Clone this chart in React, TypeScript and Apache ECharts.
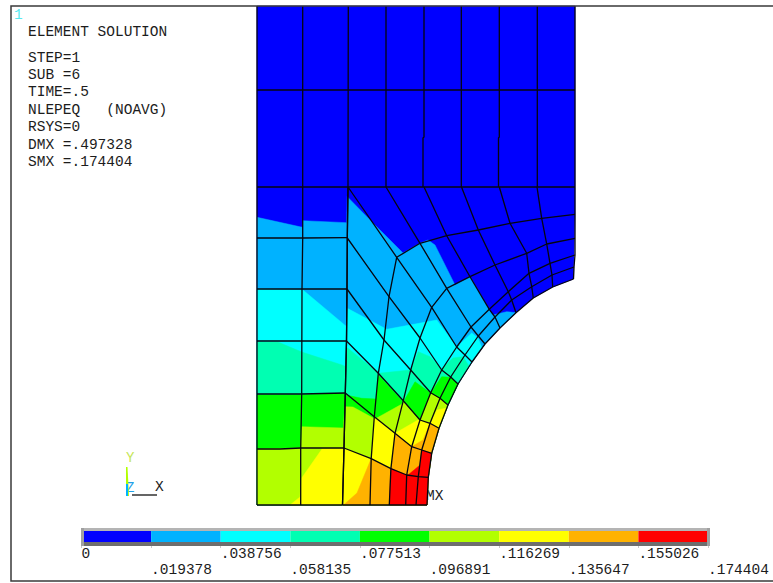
import React, { useEffect, useRef } from "react";
import * as echarts from "echarts";

const W = 773;
const H = 583;

// Contour scale
const contourLevels = [0, 0.019378, 0.038756, 0.058135, 0.077513, 0.096891, 0.116269, 0.135647, 0.155026, 0.174404];
const contourLabels = ["0", ".019378", ".038756", ".058135", ".077513", ".096891", ".116269", ".135647", ".155026", ".174404"];
const contourColors = ["#0000ff", "#00b2ff", "#00ffff", "#00ffb2", "#00ff00", "#b2ff00", "#ffff00", "#ffb200", "#ff0000"];

// Annotation text
const titleLines = ["ELEMENT SOLUTION"];
const infoLines = ["STEP=1", "SUB =6", "TIME=.5", "NLEPEQ   (NOAVG)", "RSYS=0", "DMX =.497328", "SMX =.174404"];

type P = [number, number];

// Mesh around the hole: each radial line, from the outer edge (c0) to the hole (c5)
const radialLines: P[][] = [
  [[575, 187], [575, 214.3], [575, 238.3], [575, 255], [574, 267], [573.5, 279]],
  [[537, 187], [541.7, 218.3], [546.7, 244], [550, 263.3], [552, 275], [552.7, 287]],
  [[499.3, 187], [510, 223.3], [526.7, 253.3], [529, 273.3], [531.7, 286.7], [533.3, 298]],
  [[461.5, 187], [478.3, 230], [495, 265], [508.3, 291.7], [511.7, 300], [516, 312.7]],
  [[424, 187], [446.7, 235.7], [470, 276.7], [489.3, 309.3], [495, 317], [500, 328]],
  [[386, 187], [420, 243.3], [446.7, 288.3], [471, 327], [478.3, 336], [485, 344]],
  [[348, 187], [396.7, 257.3], [431.7, 307.3], [456.7, 347], [465, 355], [472, 362]],
  [[347.3, 238], [389, 296.7], [420, 338], [441.7, 370], [450.7, 377], [458, 384]],
  [[347, 289], [384, 340], [410.7, 370], [430.7, 392.7], [440, 398.3], [448, 405]],
  [[346.5, 341], [378.3, 373.3], [403.3, 400.7], [420, 420], [430, 423.3], [439, 428.3]],
  [[345.3, 393], [374.3, 416.7], [395, 433.3], [411.7, 446.7], [421.7, 450], [431.7, 453.3]],
  [[344, 448], [371.2, 458.6], [390.9, 468.6], [406.7, 475], [418.3, 476.7], [428.3, 477.3]],
  [[342.5, 505], [370, 505], [389.3, 505], [405.7, 505], [416, 505], [427, 505]],
];

// Straight part of the mesh
const upperColumns: P[][] = [
  [[257, 6], [257, 505]],
  [[302.7, 6], [302.7, 238], [302, 289], [301.7, 394], [300.7, 449], [300.7, 505]],
  [[348.3, 6], [348, 187], [347.3, 238], [347, 289], [346.5, 341], [345.3, 393], [344, 448], [342.5, 505]],
  [[386, 6], [386, 187]],
  [[424, 6], [424, 137], [423, 138], [423, 187]],
  [[461.3, 6], [461.3, 187]],
  [[499.3, 6], [499.3, 137], [498.5, 138], [498.5, 187]],
  [[537.3, 6], [537.3, 187]],
  [[575, 6], [575, 187]],
];
const upperRows: P[][] = [
  [[257, 90], [575, 90]],
  [[257, 187], [348, 187]],
  [[257, 238], [302.7, 238], [347.3, 237.7]],
  [[257, 289], [347, 289]],
  [[257, 341], [346.5, 341]],
  [[257, 394], [280, 394], [301.7, 394], [345.3, 393]],
  [[257, 449], [280, 449], [300.7, 448], [344, 448]],
  [[257, 505], [342.5, 505]],
];

// Contour boundaries: where each colour band begins, left of the hole's edge
const contourBoundaries: P[][] = [
  [[257, 505], [257, 6], [575, 6], [575, 214]],
  [[257, 505], [257, 217.3], [302.3, 227.3], [303, 220.7], [346.7, 222.7], [347.3, 196.7], [373, 223], [403, 253], [420, 243.3], [428, 240], [435, 245], [455, 285], [470, 276.7], [473, 281.7], [489.3, 309.3], [493, 315], [506.7, 311.7], [516, 312.7]],
  [[257, 505], [257, 289], [303, 290], [346.7, 326.7], [347.3, 308.3], [386.7, 329.3], [436.7, 320], [456.7, 347], [471.7, 333], [478, 338], [482, 348]],
  [[257, 505], [257, 342], [278, 342], [301.7, 352], [342, 365], [346, 366.7], [346.5, 347], [378.3, 373.3], [410.7, 370], [418.3, 351.7], [430, 356.7], [441.7, 369], [453, 358], [463, 356.7], [469, 366]],
  [[257, 505], [257, 395], [301.7, 395], [343.3, 393.3], [346, 395], [361.7, 398.3], [376, 399], [378.3, 375], [403.3, 402], [415, 381.7], [430.7, 393], [441.7, 376.7], [450.7, 377.3], [458.3, 384]],
  [[257, 505], [257, 449], [300.7, 448], [301.7, 426.7], [343.3, 428], [345, 406.7], [353, 407], [375, 419], [402, 404], [403.3, 401], [420, 420], [430.7, 393], [440, 398.3], [448, 405]],
  [[290, 505], [300, 497], [301.7, 478], [322, 449], [344, 448.3], [371.2, 458.6], [374.3, 416.7], [395, 433.3], [418, 420], [430, 423.3], [437, 410], [447, 408]],
  [[343.5, 505], [357, 493], [371, 459], [390.9, 468.6], [395, 433.3], [411.7, 446.7], [423, 440], [430, 423.3], [439, 428.3]],
  [[389.3, 505], [390.9, 468.6], [406.7, 475], [408, 475], [420, 465], [421.7, 450], [431.7, 453.3]],
];

const holeEdge: P[] = radialLines.map((r) => r[5]);
const concentricLines: P[][] = [0, 1, 2, 3, 4, 5].map((k) => radialLines.map((r) => r[k]));
const meshLines: P[][] = [...upperColumns, ...upperRows, ...radialLines, ...concentricLines];

const contourPolygons: P[][] = contourBoundaries.map((b) => {
  const last = b[b.length - 1];
  return [...b, ...holeEdge.filter((p) => p[1] > last[1])];
});

export default function App() {
  const ref = useRef<HTMLDivElement>(null);
  useEffect(() => {
    document.body.style.margin = "0";
    const chart = echarts.init(ref.current!, undefined, { renderer: "svg" });
    const font = "'Liberation Mono', monospace";
    const txt = (text: string, x: number, y: number, fill = "#1c1c1c", fontSize = 14.5) => ({
      type: "text",
      x,
      y,
      style: { text, fill, font: `${fontSize}px ${font}`, textVerticalAlign: "middle" },
    });
    const infoY = [58, 75, 92, 110, 127, 145, 162];
    chart.setOption({
      animation: false,
      backgroundColor: "#ffffff",
      grid: [
        { left: 0, top: 0, width: W, height: H },
        { left: 81.5, top: 531, width: 626.5, height: 11 },
      ],
      xAxis: [
        { type: "value", gridIndex: 0, min: 0, max: W, show: false },
        {
          type: "value",
          gridIndex: 1,
          min: 0,
          max: contourLevels[contourLevels.length - 1],
          axisLine: { show: false },
          splitLine: { show: false },
          axisTick: { show: true, length: 6, lineStyle: { color: "#c8c8c8" }, customValues: contourLevels },
          axisLabel: {
            show: true,
            customValues: contourLevels,
            align: "left",
            margin: 4,
            color: "#1c1c1c",
            fontFamily: font,
            fontSize: 14.5,
            lineHeight: 16,
            hideOverlap: false,
            formatter: (v: number) => {
              const i = contourLevels.findIndex((l) => Math.abs(l - v) < 1e-6);
              return i % 2 === 0 ? contourLabels[i] : " \n" + contourLabels[i];
            },
          },
        },
      ],
      yAxis: [
        { type: "value", gridIndex: 0, min: 0, max: H, inverse: true, show: false },
        { type: "value", gridIndex: 1, min: 0, max: 1, show: false },
      ],
      series: [
        {
          type: "custom",
          xAxisIndex: 0,
          yAxisIndex: 0,
          clip: false,
          silent: true,
          data: contourPolygons.map((_, i) => [i]),
          renderItem: (params: any, api: any) => {
            const i = params.dataIndex;
            return {
              type: "polygon",
              shape: { points: contourPolygons[i].map((p) => api.coord(p)) },
              style: { fill: contourColors[i], stroke: contourColors[i], lineWidth: 0.5 },
            };
          },
        },
        {
          type: "custom",
          xAxisIndex: 0,
          yAxisIndex: 0,
          clip: false,
          silent: true,
          data: meshLines.map((_, i) => [i]),
          renderItem: (params: any, api: any) => ({
            type: "polyline",
            shape: { points: meshLines[params.dataIndex].map((p) => api.coord(p)) },
            style: { fill: "none", stroke: "#06060f", lineWidth: 1.3, lineJoin: "round" },
          }),
        },
        {
          type: "custom",
          xAxisIndex: 1,
          yAxisIndex: 1,
          clip: false,
          silent: true,
          data: contourColors.map((_, i) => [contourLevels[i], contourLevels[i + 1]]),
          renderItem: (params: any, api: any) => {
            const a = api.coord([api.value(0), 1]);
            const b = api.coord([api.value(1), 0]);
            return {
              type: "rect",
              shape: { x: a[0], y: a[1], width: b[0] - a[0], height: b[1] - a[1] },
              style: { fill: contourColors[params.dataIndex] },
            };
          },
        },
      ],
      graphic: [
        // frame
        { type: "polyline", shape: { points: [[W + 2, 6], [11, 6], [11, 581], [W + 2, 581]] }, style: { fill: "none", stroke: "#3a3a3a", lineWidth: 1.5 }, z: 5 },
        // colour bar bevel
        { type: "rect", shape: { x: 81, y: 528, width: 629, height: 3 }, style: { fill: "#b4b4b4" }, z: 5 },
        { type: "rect", shape: { x: 81, y: 542, width: 629, height: 4 }, style: { fill: "#6e6e6e" }, z: 5 },
        { type: "rect", shape: { x: 81, y: 528, width: 3, height: 18 }, style: { fill: "#a0a0a0" }, z: 5 },
        { type: "rect", shape: { x: 707, y: 528, width: 3, height: 18 }, style: { fill: "#a0a0a0" }, z: 5 },
        // triad
        { type: "polygon", shape: { points: [[126, 467], [127.5, 467], [129, 496], [126, 496]] }, style: { fill: "#b2ff00" }, z: 5 },
        { type: "rect", shape: { x: 126, y: 484, width: 2, height: 12 }, style: { fill: "#00b2ff" }, z: 6 },
        { type: "line", shape: { x1: 132, y1: 495, x2: 157, y2: 495 }, style: { stroke: "#111", lineWidth: 1.3 }, z: 5 },
        txt("Y", 126, 458, "#c6e65a", 14),
        txt("Z", 126, 488, "#22a0e8", 14),
        txt("X", 155, 487, "#1c1c1c", 14.5),
        txt("1", 14, 15, "#58e8f0", 14.5),
        txt(titleLines[0], 28, 32),
        ...infoLines.map((t, i) => txt(t, 28, infoY[i])),
        txt("MX", 426, 496),
      ],
    });
    return () => chart.dispose();
  }, []);
  return <div ref={ref} style={{ width: W, height: H }} />;
}
